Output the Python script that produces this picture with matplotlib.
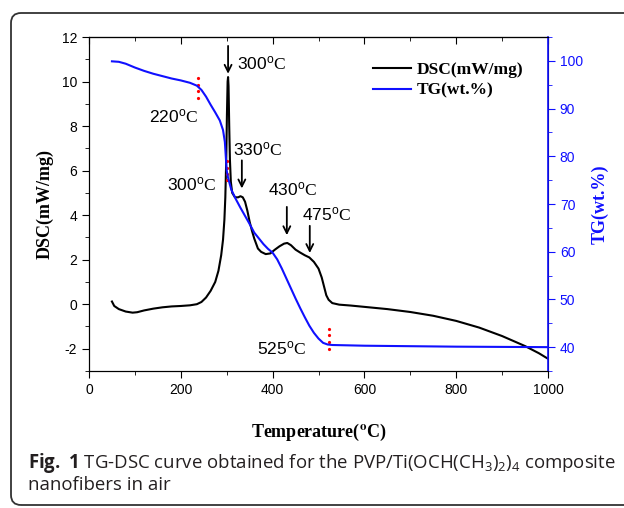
import numpy as np
import matplotlib
matplotlib.use('Agg')
import matplotlib.pyplot as plt
from matplotlib.patches import FancyBboxPatch

# DSC curve (mW/mg)
dsc_t = [50, 55, 65, 80, 95, 105, 120, 140, 160, 180, 200, 220, 235, 245, 255,
         265, 275, 282, 288, 292, 295, 297, 299, 300.5, 302, 303, 304, 305.5,
         307, 309, 312, 318, 325, 330, 335, 340, 345, 350, 355, 360, 368, 375,
         385, 395, 405, 415, 425, 432, 440, 450, 460, 470, 480, 490, 500, 507,
         512, 517, 522, 530, 545, 570, 600, 650, 700, 750, 800, 850, 900, 950,
         980, 1000]
dsc_v = [0.12, -0.08, -0.22, -0.33, -0.38, -0.36, -0.28, -0.2, -0.14, -0.1,
         -0.08, -0.05, 0.0, 0.1, 0.3, 0.6, 1.0, 1.5, 2.2, 2.9, 3.8, 4.8, 6.5,
         8.5, 10.0, 10.2, 9.8, 8.0, 6.5, 5.5, 5.0, 4.8, 4.8, 4.85, 4.8, 4.6,
         4.2, 3.7, 3.3, 2.95, 2.5, 2.35, 2.25, 2.28, 2.45, 2.6, 2.72, 2.75,
         2.65, 2.45, 2.32, 2.2, 2.1, 1.9, 1.6, 1.2, 0.8, 0.4, 0.2, 0.05, -0.02,
         -0.06, -0.12, -0.22, -0.35, -0.52, -0.75, -1.05, -1.43, -1.88, -2.2,
         -2.45]

# TG curve (wt.%)
tg_t = [50, 65, 80, 100, 120, 140, 160, 180, 200, 220, 235, 245, 255, 265, 275,
        285, 292, 296, 298, 300, 303, 310, 320, 330, 340, 350, 360, 370, 380,
        390, 400, 410, 420, 430, 440, 450, 460, 470, 480, 490, 500, 510, 520,
        530, 600, 700, 800, 900, 1000]
tg_v = [99.9, 99.8, 99.4, 98.6, 97.9, 97.3, 96.8, 96.3, 95.9, 95.4, 94.8, 93.9,
        92.5, 90.8, 89.2, 87.5, 85.5, 83.0, 80.0, 77.0, 75.5, 73.0, 71.0, 69.2,
        67.5, 65.8, 64.0, 62.8, 61.6, 60.6, 59.8, 58.4, 56.5, 54.4, 52.3, 50.2,
        48.2, 46.3, 44.5, 43.0, 41.8, 40.9, 40.55, 40.45, 40.3, 40.2, 40.1,
        40.05, 40.0]

# red dotted markers (temperature, DSC-axis values)
marks_t = [237, 301, 523]
marks_lo = [9.25, 5.57, -2.0]
marks_hi = [10.17, 6.42, -1.1]

# peak labels: text, x, y, optional arrow (x, y_from, y_to)
labels = [("300", 322, 10.57, (303, 11.6, 10.35)),
          ("220", 131, 8.16, None),
          ("330", 314, 6.69, (333, 6.46, 5.2)),
          ("300", 170, 5.13, None),
          ("430", 390, 4.90, (431, 4.37, 3.1)),
          ("475", 464, 3.79, (481, 3.52, 2.3)),
          ("525", 366, -2.24, None)]

blue = '#1010ff'
serif = 'Liberation Serif'

plt.rcParams['mathtext.fontset'] = 'custom'
plt.rcParams['mathtext.rm'] = 'Open Sans'
plt.rcParams['mathtext.bf'] = 'Open Sans:bold'
plt.rcParams['mathtext.it'] = 'Open Sans:italic'
plt.rcParams['mathtext.sf'] = 'Liberation Sans'
plt.rcParams['mathtext.cal'] = 'Liberation Serif'
plt.rcParams['font.family'] = 'Liberation Sans'
plt.rcParams['axes.unicode_minus'] = False

fig = plt.figure(figsize=(6.24, 5.08), dpi=100)
ax = fig.add_axes([89 / 624, 1 - 371 / 508, 459 / 624, 334 / 508])
ax2 = ax.twinx()

l1, = ax.plot(dsc_t, dsc_v, color='black', lw=1.5)
l2, = ax2.plot(tg_t, tg_v, color=blue, lw=1.5)

for t, lo, hi in zip(marks_t, marks_lo, marks_hi):
    ax.plot([t] * 4, np.linspace(lo, hi, 4), 'o', color='red', ms=2.3, mec='none')

for txt, x, y, arr in labels:
    ax.text(x, y, r'$\mathsf{%s}^{\mathsf{o}}\mathcal{C}$' % txt, fontsize=12.5,
            math_fontfamily='custom', ha='left', va='baseline')
    if arr is not None:
        ax.annotate('', xy=(arr[0], arr[2]), xytext=(arr[0], arr[1]),
                    arrowprops=dict(arrowstyle='->,head_length=0.5,head_width=0.25',
                                    lw=1.3, color='black', shrinkA=0, shrinkB=0))

ax.set_xlim(0, 1000)
ax.set_ylim(-3, 12)
ax2.set_ylim(35, 105)
xt = np.arange(0, 1001, 200)
xm = np.arange(100, 1000, 200)
ax.set_xticks(xt)
ax.set_xticks(xm, minor=True)
ax.set_yticks(np.arange(-2, 13, 2))
ax.set_yticks(np.arange(-3, 13, 1), minor=True)
ax2.set_yticks(np.arange(40, 101, 10))
ax2.set_yticks(np.arange(35, 106, 5), minor=True)

top = ax.secondary_xaxis('top')
top.set_xticks(xt)
top.set_xticks(xm, minor=True)
top.tick_params(axis='x', which='both', direction='in', labeltop=False)
top.tick_params(axis='x', which='major', length=5)
top.tick_params(axis='x', which='minor', length=3)

ax.tick_params(axis='x', which='both', direction='out', labelsize=10)
ax.tick_params(axis='x', which='major', length=5)
ax.tick_params(axis='x', which='minor', length=3)
ax.tick_params(axis='y', which='major', direction='out', length=5, labelsize=10)
ax.tick_params(axis='y', which='minor', direction='out', length=3)
ax2.tick_params(axis='y', which='major', direction='out', length=5, labelsize=10,
                colors=blue)
ax2.tick_params(axis='y', which='minor', direction='out', length=3, colors=blue)
ax2.spines['right'].set_color(blue)
ax2.spines['right'].set_linewidth(1.2)

ax.set_xlabel(r'Temperature($^{\mathbf{o}}$C)', family=serif, fontweight='bold',
              fontsize=13, math_fontfamily='stix', labelpad=18)
ax.set_ylabel('DSC(mW/mg)', family=serif, fontweight='bold', fontsize=13, labelpad=6)
ax2.set_ylabel('TG(wt.%)', family=serif, fontweight='bold', fontsize=13,
               color=blue, labelpad=6)

ax.legend([l1, l2], ['DSC(mW/mg)', 'TG(wt.%)'], loc='upper left',
          bbox_to_anchor=(0.619, 0.925), frameon=False, borderpad=0,
          borderaxespad=0, handlelength=2.2, handletextpad=0.3,
          labelspacing=0.25, prop={'family': serif, 'weight': 'bold', 'size': 12.5})

fig.text(28 / 624, 1 - 468 / 508,
         r'$\mathbf{Fig.\ 1}$ TG-DSC curve obtained for the PVP/Ti(OCH(CH$_3$)$_2$)$_4$ composite',
         fontsize=13.4, color='#231f20', va='baseline', math_fontfamily='custom',
         family='Open Sans')
fig.text(28 / 624, 1 - 490 / 508, 'nanofibers in air', family='Open Sans',
         fontsize=13.4, color='#231f20', va='baseline')

box = FancyBboxPatch((0.11, 0.03), 7.0, 4.92, boxstyle='round,pad=0,rounding_size=0.1',
                     transform=fig.dpi_scale_trans, fill=False, ec='#333333', lw=1.3)
fig.patches.append(box)

fig.savefig('out.png', dpi=100)
